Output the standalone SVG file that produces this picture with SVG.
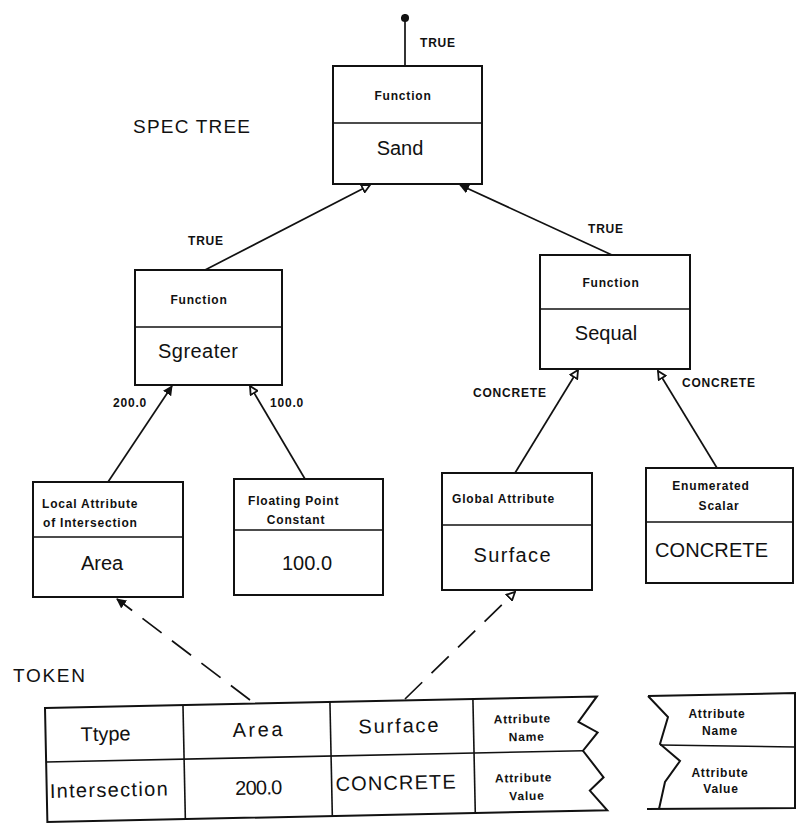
<svg xmlns="http://www.w3.org/2000/svg" width="799" height="825" viewBox="0 0 799 825">
<defs>
<style>
.bg{fill:#fff}
.box{fill:none;stroke:#111;stroke-width:2}
.div{stroke:#111;stroke-width:1.6;fill:none}
.ln{stroke:#111;stroke-width:1.7;fill:none}
.dash{stroke:#111;stroke-width:1.7;fill:none;stroke-dasharray:24 13}
.sm{font-family:"Liberation Sans",Arial,sans-serif;font-size:12px;font-weight:bold;letter-spacing:0.8px;fill:#111}
.big{font-family:"Liberation Sans",Arial,sans-serif;font-size:20px;fill:#111}
.ttl{font-family:"Liberation Sans",Arial,sans-serif;font-size:19px;fill:#111}
.c{text-anchor:middle}
</style>
<marker id="af" viewBox="0 0 10 10" refX="9" refY="5" markerWidth="10" markerHeight="10" markerUnits="userSpaceOnUse" orient="auto">
<path d="M0,0 L10,5 L0,10 Z" fill="#111"/>
</marker>
<marker id="ao" viewBox="0 0 10 10" refX="9" refY="5" markerWidth="10" markerHeight="10" markerUnits="userSpaceOnUse" orient="auto">
<path d="M1,1 L9,5 L1,9 Z" fill="#fff" stroke="#111" stroke-width="1.8"/>
</marker>
<marker id="dot" viewBox="0 0 10 10" refX="5" refY="5" markerWidth="9" markerHeight="9" markerUnits="userSpaceOnUse" orient="auto">
<circle cx="5" cy="5" r="4.5" fill="#111"/>
</marker>
</defs>
<rect class="bg" x="0" y="0" width="799" height="825"/>

<text class="ttl" x="133" y="133" textLength="117">SPEC TREE</text>
<text class="ttl" x="13" y="682" textLength="72">TOKEN</text>

<g id="connectors">
<line class="ln" x1="405" y1="66" x2="405" y2="18" marker-end="url(#dot)"/>
<line class="ln" x1="205" y1="270" x2="370" y2="185" marker-end="url(#ao)"/>
<line class="ln" x1="612" y1="255" x2="460" y2="185" marker-end="url(#af)"/>
<line class="ln" x1="108" y1="482" x2="172" y2="386" marker-end="url(#af)"/>
<line class="ln" x1="305" y1="479" x2="250" y2="386" marker-end="url(#ao)"/>
<line class="ln" x1="515" y1="473" x2="578" y2="370" marker-end="url(#ao)"/>
<line class="ln" x1="717" y1="468" x2="658" y2="371" marker-end="url(#ao)"/>
<line class="dash" x1="250" y1="700" x2="117" y2="599" marker-end="url(#af)"/>
<line class="dash" x1="405" y1="699" x2="515" y2="592" marker-end="url(#ao)"/>
<text class="sm" x="420" y="47">TRUE</text>
<text class="sm" x="188" y="245">TRUE</text>
<text class="sm" x="588" y="233">TRUE</text>
<text class="sm" x="113" y="407">200.0</text>
<text class="sm" x="270" y="407">100.0</text>
<text class="sm" x="473" y="397">CONCRETE</text>
<text class="sm" x="682" y="387">CONCRETE</text>
</g>

<g id="node-sand">
<rect class="box" x="333" y="66" width="149" height="118"/>
<line class="div" x1="333" y1="123" x2="482" y2="123"/>
<text class="sm c" x="403" y="100">Function</text>
<text class="big c" x="400" y="155">Sand</text>
</g>

<g id="node-sgreater">
<rect class="box" x="135" y="270" width="147" height="115"/>
<line class="div" x1="135" y1="327" x2="282" y2="327"/>
<text class="sm c" x="199" y="304">Function</text>
<text class="big c" x="198" y="358" textLength="80">Sgreater</text>
</g>

<g id="node-sequal">
<rect class="box" x="540" y="255" width="150" height="114"/>
<line class="div" x1="540" y1="309" x2="690" y2="309"/>
<text class="sm c" x="611" y="287">Function</text>
<text class="big c" x="606" y="340">Sequal</text>
</g>

<g id="node-area">
<rect class="box" x="33" y="482" width="150" height="115"/>
<line class="div" x1="33" y1="537" x2="183" y2="537"/>
<text class="sm" x="42" y="508">Local Attribute</text>
<text class="sm" x="43" y="527">of Intersection</text>
<text class="big c" x="102" y="570">Area</text>
</g>

<g id="node-constant">
<rect class="box" x="234" y="479" width="149" height="116"/>
<line class="div" x1="234" y1="530" x2="383" y2="530"/>
<text class="sm" x="248" y="505">Floating Point</text>
<text class="sm c" x="296" y="524">Constant</text>
<text class="big c" x="307" y="570">100.0</text>
</g>

<g id="node-surface">
<rect class="box" x="442" y="473" width="150" height="117"/>
<line class="div" x1="442" y1="525" x2="592" y2="525"/>
<text class="sm" x="452" y="503">Global Attribute</text>
<text class="big c" x="512" y="562" textLength="77">Surface</text>
</g>

<g id="node-scalar">
<rect class="box" x="646" y="468" width="147" height="115"/>
<line class="div" x1="646" y1="522" x2="793" y2="522"/>
<text class="sm c" x="711" y="490">Enumerated</text>
<text class="sm c" x="719" y="510">Scalar</text>
<text class="big" x="655" y="557" textLength="113">CONCRETE</text>
</g>

<g id="token-table" transform="rotate(-1.2 45 708)">
<path class="box" d="M45,708 L597,708 L578,733 L597,744 L582,762 L602,789 L588,802 L605,822 L45,822 Z"/>
<line class="div" x1="45" y1="762" x2="582" y2="762"/>
<line class="div" x1="183" y1="708" x2="183" y2="822"/>
<line class="div" x1="330" y1="708" x2="330" y2="822"/>
<line class="div" x1="473" y1="708" x2="473" y2="822"/>
<text class="big c" x="105" y="742">Ttype</text>
<text class="big c" x="257" y="741" textLength="50">Area</text>
<text class="big c" x="398" y="740" textLength="80">Surface</text>
<text class="sm c" x="522" y="733">Attribute</text>
<text class="sm c" x="526" y="751">Name</text>
<text class="big c" x="107" y="798" textLength="118">Intersection</text>
<text class="big c" x="257" y="799" textLength="47">200.0</text>
<text class="big" x="334" y="797" textLength="120">CONCRETE</text>
<text class="sm c" x="522" y="792">Attribute</text>
<text class="sm c" x="525" y="810">Value</text>
</g>

<g id="token-piece">
<path class="box" d="M648,696 L795,693 L795,808 L647,809 M648,696 L668,717 L660,744 L680,761 L665,782 L659,809"/>
<line class="div" x1="660" y1="745" x2="795" y2="747"/>
<text class="sm c" x="717" y="718">Attribute</text>
<text class="sm c" x="720" y="735">Name</text>
<text class="sm c" x="720" y="777">Attribute</text>
<text class="sm c" x="721" y="793">Value</text>
</g>
</svg>
